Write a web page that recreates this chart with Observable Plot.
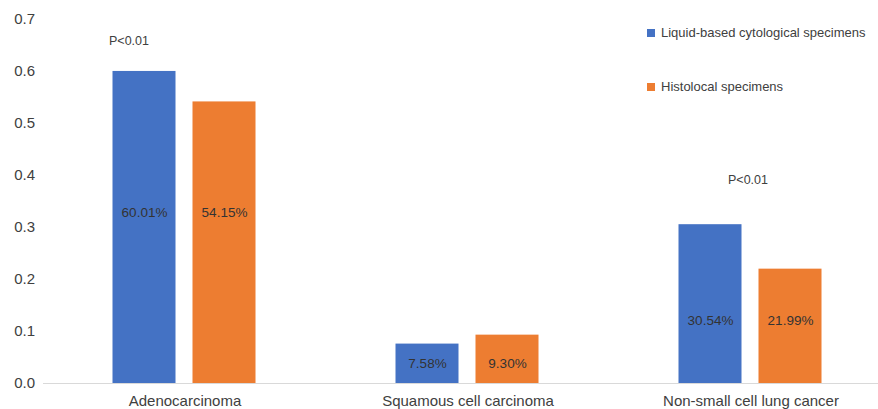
<!DOCTYPE html>
<html>
<head>
<meta charset="utf-8">
<script src="https://cdn.jsdelivr.net/npm/d3@7"></script>
<script src="https://cdn.jsdelivr.net/npm/@observablehq/plot@0.6"></script>
<style>
  body { margin: 0; background: #fff; font-family: "Liberation Sans", Arial, sans-serif; }
  #wrap { position: relative; width: 878px; height: 409px; overflow: hidden; }
  .legend { position: absolute; left: 647px; font-size: 13px; color: #404040; white-space: nowrap; }
  .legend .sw { display: inline-block; width: 8px; height: 8px; margin-right: 6px; vertical-align: 0px; }
</style>
</head>
<body>
<div id="wrap"></div>
<script>
const categories = ["Adenocarcinoma", "Squamous cell carcinoma", "Non-small cell lung cancer"];
const seriesNames = ["Liquid-based cytological specimens", "Histolocal specimens"];
const liquidValues = [0.6001, 0.0758, 0.3054];
const histoValues = [0.5415, 0.0930, 0.2199];
const labelLevels = [0.329, 0.038, 0.121];
const pLabels = [
  {cat: "Adenocarcinoma", y: 0.658, text: "P<0.01"},
  {cat: "Non-small cell lung cancer", y: 0.392, text: "P<0.01"}
];
const yTicks = [0, 0.1, 0.2, 0.3, 0.4, 0.5, 0.6, 0.7];
const colors = ["#4472C4", "#ED7D31"];

const rows = [];
categories.forEach((c, i) => {
  rows.push({cat: c, series: seriesNames[0], value: liquidValues[i], level: labelLevels[i]});
  rows.push({cat: c, series: seriesNames[1], value: histoValues[i], level: labelLevels[i]});
});

const textColor = "#404040";
const plot = Plot.plot({
  width: 878,
  height: 409,
  marginLeft: 42.5,
  marginRight: -13.5,
  marginTop: 19,
  marginBottom: 26,
  style: {fontFamily: '"Liberation Sans", Arial, sans-serif', fontSize: "15px", color: textColor, background: "white"},
  fx: {domain: categories, padding: 0, label: null, axis: "bottom", tickSize: 0, tickPadding: 12, fontSize: 15},
  x: {domain: seriesNames, paddingInner: 0.21, paddingOuter: 0.852, axis: null},
  y: {domain: [0, 0.7], ticks: yTicks, tickFormat: ".1f", tickSize: 0, tickPadding: 8.5, label: null, grid: false},
  color: {domain: seriesNames, range: colors},
  marks: [
    Plot.barY(rows, {fx: "cat", x: "series", y: "value", fill: "series"}),
    Plot.ruleY([0], {stroke: "#d9d9d9", strokeWidth: 1}),
    Plot.text(rows, {fx: "cat", x: "series", y: "level", text: d => (d.value * 100).toFixed(2) + "%", fill: "#333", fontSize: 13.5}),
    Plot.text(pLabels.filter(d => d.cat === categories[0]), {fx: "cat", y: "y", text: "text", frameAnchor: "middle", dx: -56, fill: textColor, fontSize: 12.5}),
    Plot.text(pLabels.filter(d => d.cat === categories[2]), {fx: "cat", y: "y", text: "text", frameAnchor: "middle", dx: -3, fill: textColor, fontSize: 12.5})
  ]
});

const wrap = document.getElementById("wrap");
wrap.appendChild(plot);
const legendTops = [25, 79];
seriesNames.forEach((s, i) => {
  const div = document.createElement("div");
  div.className = "legend";
  div.style.top = legendTops[i] + "px";
  div.innerHTML = `<span class="sw" style="background:${colors[i]}"></span>${s}`;
  wrap.appendChild(div);
});
</script>
</body>
</html>
